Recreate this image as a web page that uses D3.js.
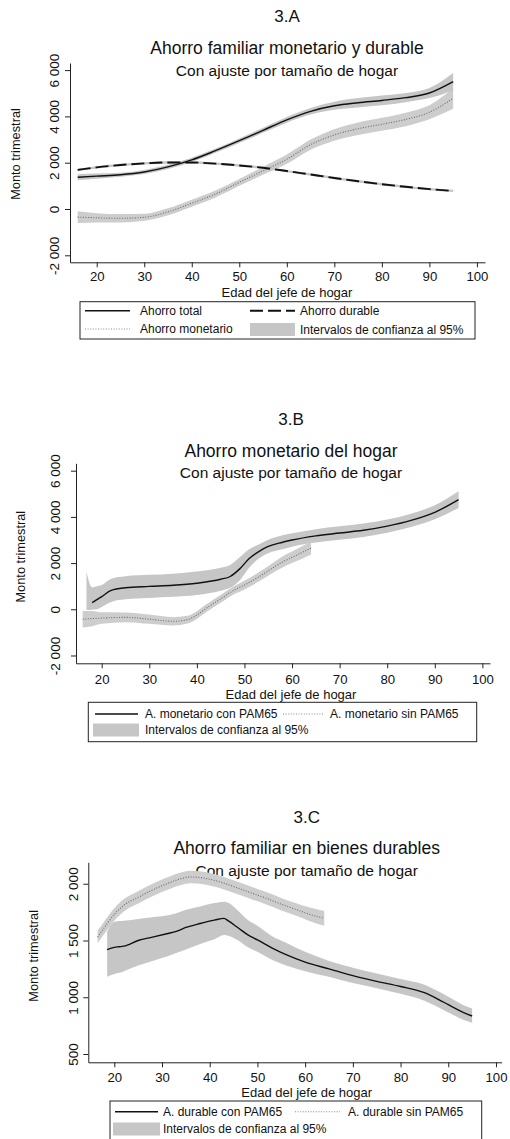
<!DOCTYPE html>
<html>
<head>
<meta charset="utf-8">
<script src="https://cdn.jsdelivr.net/npm/d3@7"></script>
<style>
  html, body { margin: 0; padding: 0; background: #fff; }
  svg { display: block; }
  text { font-family: "Liberation Sans", Arial, Helvetica, sans-serif; fill: #111; }
</style>
</head>
<body>
<svg id="chart" width="510" height="1139"></svg>
<script>
// ---------- shared axis labels ----------
const xTickValues = [20, 30, 40, 50, 60, 70, 80, 90, 100];
const xTitle = "Edad del jefe de hogar";
const yTitle = "Monto trimestral";
const subtitle = "Con ajuste por tamaño de hogar";
const bandLabel = "Intervalos de confianza al 95%";

// ---------- 3.A : Ahorro familiar monetario y durable ----------
const aYTicks = [-2000, 0, 2000, 4000, 6000];
const aYTickLabels = ["-2 000", "0", "2 000", "4 000", "6 000"];
const aAges = [16, 20, 25, 30, 35, 40, 45, 50, 55, 60, 65, 70, 75, 80, 85, 90, 95];
const aTotal = [1370, 1420, 1480, 1600, 1820, 2120, 2520, 2950, 3400, 3850, 4220, 4460, 4590, 4690, 4810, 5010, 5500];
const aTotalLo = [1240, 1310, 1390, 1510, 1730, 2030, 2430, 2850, 3290, 3730, 4080, 4290, 4390, 4480, 4610, 4790, 5120];
const aTotalHi = [1500, 1530, 1570, 1690, 1910, 2210, 2610, 3050, 3510, 3970, 4360, 4630, 4790, 4900, 5010, 5230, 5880];
const aDurable = [1690, 1800, 1900, 1970, 2010, 2010, 1960, 1880, 1780, 1640, 1490, 1340, 1200, 1070, 960, 860, 780];
const aDurableLo = [1640, 1750, 1850, 1920, 1960, 1960, 1910, 1830, 1730, 1590, 1440, 1290, 1150, 1020, 910, 810, 730];
const aDurableHi = [1740, 1850, 1950, 2020, 2060, 2060, 2010, 1930, 1830, 1690, 1540, 1390, 1250, 1120, 1010, 910, 830];
const aMonet = [-350, -380, -400, -360, -120, 250, 650, 1150, 1650, 2150, 2780, 3200, 3470, 3660, 3870, 4180, 4780];
const aMonetLo = [-600, -580, -580, -510, -270, 100, 500, 1000, 1480, 1950, 2560, 2950, 3200, 3380, 3580, 3880, 4330];
const aMonetHi = [-100, -180, -220, -210, 30, 400, 800, 1300, 1820, 2350, 3000, 3450, 3740, 3940, 4160, 4480, 5230];

// ---------- 3.B : Ahorro monetario del hogar ----------
const bYTicks = [-2000, 0, 2000, 4000, 6000];
const bYTickLabels = ["-2 000", "0", "2 000", "4 000", "6 000"];
const bConAges = [18, 19, 20, 22, 25, 30, 35, 40, 45, 47, 49, 51, 53, 55, 58, 60, 65, 70, 75, 80, 85, 90, 95];
const bCon = [290, 420, 550, 820, 930, 990, 1040, 1130, 1300, 1420, 1750, 2200, 2500, 2720, 2900, 3000, 3180, 3300, 3420, 3600, 3850, 4200, 4750];
const bConBandAges = [16.8, 18, 19, 20, 22, 25, 30, 35, 40, 45, 47, 49, 51, 53, 55, 58, 60, 65, 70, 75, 80, 85, 90, 95];
const bConLo = [-30, -20, 0, 100, 320, 430, 490, 540, 620, 800, 930, 1250, 1800, 2200, 2430, 2600, 2710, 2890, 3010, 3130, 3310, 3560, 3900, 4390];
const bConHi = [1630, 950, 1000, 1050, 1320, 1430, 1490, 1540, 1640, 1800, 1920, 2250, 2600, 2800, 3010, 3200, 3290, 3470, 3590, 3710, 3890, 4140, 4500, 5110];
const bSinAges = [16, 18, 20, 25, 30, 35, 38, 40, 42, 45, 48, 50, 53, 56, 58, 60, 62, 64];
const bSin = [-430, -400, -380, -350, -430, -520, -450, -250, 50, 450, 850, 1050, 1400, 1800, 2050, 2250, 2450, 2650];
const bSinLo = [-790, -730, -630, -560, -630, -700, -620, -420, -120, 280, 670, 860, 1200, 1580, 1810, 2000, 2180, 2370];
const bSinHi = [-70, -70, -130, -140, -230, -340, -280, -80, 220, 620, 1030, 1240, 1600, 2020, 2290, 2500, 2720, 2930];

// ---------- 3.C : Ahorro familiar en bienes durables ----------
const cYTicks = [500, 1000, 1500, 2000];
const cYTickLabels = ["500", "1 000", "1 500", "2 000"];
const cConAges = [18.5, 20, 21, 22, 25, 28, 31, 33, 35, 38, 41, 43, 44, 46, 48, 50, 53, 56, 60, 65, 70, 75, 80, 85, 88, 90, 93, 95];
const cCon = [1420, 1440, 1445, 1450, 1500, 1530, 1560, 1580, 1615, 1650, 1680, 1695, 1670, 1610, 1550, 1505, 1435, 1375, 1310, 1250, 1190, 1140, 1095, 1040, 980, 935, 870, 835];
const cConLo = [1180, 1205, 1215, 1230, 1280, 1320, 1360, 1390, 1420, 1470, 1510, 1548, 1540, 1500, 1440, 1400, 1330, 1280, 1230, 1180, 1125, 1080, 1030, 970, 910, 865, 805, 775];
const cConHi = [1580, 1665, 1672, 1675, 1690, 1705, 1720, 1740, 1770, 1800, 1830, 1842, 1830, 1760, 1680, 1630, 1540, 1480, 1400, 1320, 1260, 1210, 1160, 1110, 1050, 1005, 935, 900];
const cSinAges = [16.5, 18, 20, 22, 25, 28, 31, 34, 36, 38, 40, 43, 46, 49, 52, 55, 58, 61, 64];
const cSin = [1530, 1620, 1730, 1810, 1880, 1945, 2000, 2045, 2060, 2055, 2040, 2005, 1960, 1915, 1870, 1820, 1775, 1730, 1695];
const cSinLo = [1475, 1565, 1675, 1755, 1825, 1890, 1945, 1990, 2005, 2000, 1985, 1950, 1905, 1860, 1815, 1765, 1720, 1670, 1630];
const cSinHi = [1585, 1675, 1785, 1865, 1935, 2000, 2055, 2100, 2115, 2110, 2095, 2060, 2015, 1970, 1925, 1875, 1830, 1790, 1760];

// ---------- styles ----------
const BAND = "#c6c6c6";
const BAND_DOT = "#cdcdcd";
const STYLES = {
  solid:  { stroke: "#111", width: 1.4, dash: null },
  dashed: { stroke: "#111", width: 1.9, dash: "13,5" },
  dotted: { stroke: "#6a6a6a", width: 1.1, dash: "1,1.6" }
};

const zip = (ages, vals) => ages.map((a, i) => ({ age: a, v: vals[i] }));
const zipBand = (ages, lo, hi) => ages.map((a, i) => ({ age: a, lo: lo[i], hi: hi[i] }));

const svg = d3.select("#chart");

function drawPanel(p) {
  const g = svg.append("g");
  const x = d3.scaleLinear().domain(p.xDomain).range([p.left, p.right]);
  const y = d3.scaleLinear().domain(p.yDomain).range([p.bottom, p.top]);

  // titles
  g.append("text").attr("x", p.cx).attr("y", p.tagY).attr("text-anchor", "middle")
    .style("font-size", "17px").text(p.tag);
  g.append("text").attr("x", p.cx).attr("y", p.titleY).attr("text-anchor", "middle")
    .style("font-size", "17.5px").text(p.title);
  g.append("text").attr("x", p.cx).attr("y", p.subY).attr("text-anchor", "middle")
    .style("font-size", "15.5px").text(subtitle);

  // confidence bands
  const area = d3.area().x(d => x(d.age)).y0(d => y(d.lo)).y1(d => y(d.hi)).curve(d3.curveMonotoneX);
  p.bands.forEach(b => {
    g.append("path").datum(b.data).attr("d", area).attr("fill", b.fill).attr("stroke", "none");
  });

  // series lines
  const line = d3.line().x(d => x(d.age)).y(d => y(d.v)).curve(d3.curveMonotoneX);
  p.series.forEach(s => {
    const st = STYLES[s.style];
    g.append("path").datum(s.data).attr("d", line).attr("fill", "none")
      .attr("stroke", st.stroke).attr("stroke-width", st.width)
      .attr("stroke-dasharray", st.dash);
  });

  // x axis
  const xa = g.append("g").attr("transform", `translate(0,${p.bottom})`)
    .call(d3.axisBottom(x).tickValues(xTickValues).tickSize(5).tickSizeOuter(0).tickFormat(d3.format("d")));
  xa.selectAll("text").attr("y", p.xLabOff).attr("dy", 0).style("font-size", "13.2px").attr("fill", "#111");
  xa.selectAll("line, path").attr("stroke", "#222");
  xa.attr("font-family", null).attr("font-size", null);

  // y axis
  const ya = g.append("g").attr("transform", `translate(${p.left},0)`)
    .call(d3.axisLeft(y).tickValues(p.yTicks).tickSize(5).tickSizeOuter(0)
      .tickFormat((d, i) => p.yTickLabels[i]));
  ya.selectAll("text").attr("x", 0).attr("y", 0).attr("dy", 0)
    .attr("text-anchor", "middle")
    .attr("transform", `translate(${-p.yLabGap},0) rotate(-90)`)
    .style("font-size", "13.5px").attr("fill", "#111");
  ya.selectAll("line, path").attr("stroke", "#222");
  ya.attr("font-family", null).attr("font-size", null);

  // axis titles
  g.append("text").attr("x", p.cx).attr("y", p.xTitleY).attr("text-anchor", "middle")
    .style("font-size", "13px").text(xTitle);
  g.append("text").attr("transform", `translate(${p.yTitleX},${p.yTitleY}) rotate(-90)`)
    .attr("text-anchor", "middle").style("font-size", "12.8px").text(yTitle);

  // legend
  const L = p.legend;
  g.append("rect").attr("x", L.x0).attr("y", L.y0).attr("width", L.x1 - L.x0).attr("height", L.y1 - L.y0)
    .attr("fill", "#fff").attr("stroke", "#222").attr("stroke-width", 1);
  L.items.forEach(it => {
    if (it.kind === "band") {
      g.append("rect").attr("x", it.sx0).attr("y", it.cy - 6.5).attr("width", it.sx1 - it.sx0).attr("height", 13)
        .attr("fill", BAND);
    } else {
      const st = STYLES[it.kind];
      g.append("line").attr("x1", it.sx0).attr("x2", it.sx1).attr("y1", it.cy).attr("y2", it.cy)
        .attr("stroke", it.kind === "dotted" ? "#8a8a8a" : st.stroke).attr("stroke-width", st.width)
        .attr("stroke-dasharray", st.dash);
    }
    g.append("text").attr("x", it.tx).attr("y", it.cy + 4.3).style("font-size", "12px").text(it.label);
  });
}

drawPanel({
  tag: "3.A", title: "Ahorro familiar monetario y durable",
  cx: 287, tagY: 21.5, titleY: 53.5, subY: 76,
  left: 70, right: 485, top: 63, bottom: 262.3,
  xDomain: [14.38, 101.7], yDomain: [-2302, 6307],
  yTicks: aYTicks, yTickLabels: aYTickLabels,
  xLabOff: 19.2, yLabGap: 11.5, xTitleY: 297, yTitleX: 20, yTitleY: 154,
  bands: [
    { data: zipBand(aAges, aMonetLo, aMonetHi), fill: BAND_DOT },
    { data: zipBand(aAges, aDurableLo, aDurableHi), fill: BAND },
    { data: zipBand(aAges, aTotalLo, aTotalHi), fill: BAND }
  ],
  series: [
    { data: zip(aAges, aMonet), style: "dotted" },
    { data: zip(aAges, aDurable), style: "dashed" },
    { data: zip(aAges, aTotal), style: "solid" }
  ],
  legend: {
    x0: 80, x1: 475, y0: 301.7, y1: 339,
    items: [
      { kind: "solid", sx0: 85, sx1: 130, cy: 310.7, tx: 140, label: "Ahorro total" },
      { kind: "dashed", sx0: 250, sx1: 295, cy: 310.7, tx: 300, label: "Ahorro durable" },
      { kind: "dotted", sx0: 85, sx1: 130, cy: 329, tx: 140, label: "Ahorro monetario" },
      { kind: "band", sx0: 250, sx1: 295, cy: 329.5, tx: 300, label: bandLabel }
    ]
  }
});

drawPanel({
  tag: "3.B", title: "Ahorro monetario del hogar",
  cx: 291, tagY: 425, titleY: 456.7, subY: 478.3,
  left: 76, right: 490, top: 463.3, bottom: 663.3,
  xDomain: [14.6, 101.6], yDomain: [-2338, 6320],
  yTicks: bYTicks, yTickLabels: bYTickLabels,
  xLabOff: 20.5, yLabGap: 16.5, xTitleY: 699, yTitleX: 25, yTitleY: 556.7,
  bands: [
    { data: zipBand(bConBandAges, bConLo, bConHi), fill: BAND },
    { data: zipBand(bSinAges, bSinLo, bSinHi), fill: BAND_DOT }
  ],
  series: [
    { data: zip(bConAges, bCon), style: "solid" },
    { data: zip(bSinAges, bSin), style: "dotted" }
  ],
  legend: {
    x0: 88.3, x1: 476.7, y0: 702.3, y1: 741.7,
    items: [
      { kind: "solid", sx0: 95, sx1: 138, cy: 714, tx: 145, label: "A. monetario con PAM65" },
      { kind: "dotted", sx0: 283, sx1: 323, cy: 714, tx: 330, label: "A. monetario sin PAM65" },
      { kind: "band", sx0: 93, sx1: 139, cy: 730, tx: 145, label: bandLabel }
    ]
  }
});

drawPanel({
  tag: "3.C", title: "Ahorro familiar en bienes durables",
  cx: 306.7, tagY: 823.3, titleY: 854, subY: 876,
  left: 88.3, right: 501.7, top: 862.3, bottom: 1062.3,
  xDomain: [14.55, 101.2], yDomain: [427, 2189],
  yTicks: cYTicks, yTickLabels: cYTickLabels,
  xLabOff: 20, yLabGap: 10, xTitleY: 1097, yTitleX: 38, yTitleY: 955.8,
  bands: [
    { data: zipBand(cConAges, cConLo, cConHi), fill: BAND },
    { data: zipBand(cSinAges, cSinLo, cSinHi), fill: BAND_DOT }
  ],
  series: [
    { data: zip(cConAges, cCon), style: "solid" },
    { data: zip(cSinAges, cSin), style: "dotted" }
  ],
  legend: {
    x0: 110, x1: 481.7, y0: 1101, y1: 1141,
    items: [
      { kind: "solid", sx0: 115, sx1: 158, cy: 1111.7, tx: 163, label: "A. durable con PAM65" },
      { kind: "dotted", sx0: 295, sx1: 340, cy: 1111.7, tx: 348, label: "A. durable sin PAM65" },
      { kind: "band", sx0: 113, sx1: 160, cy: 1129, tx: 163, label: bandLabel }
    ]
  }
});
</script>
</body>
</html>
